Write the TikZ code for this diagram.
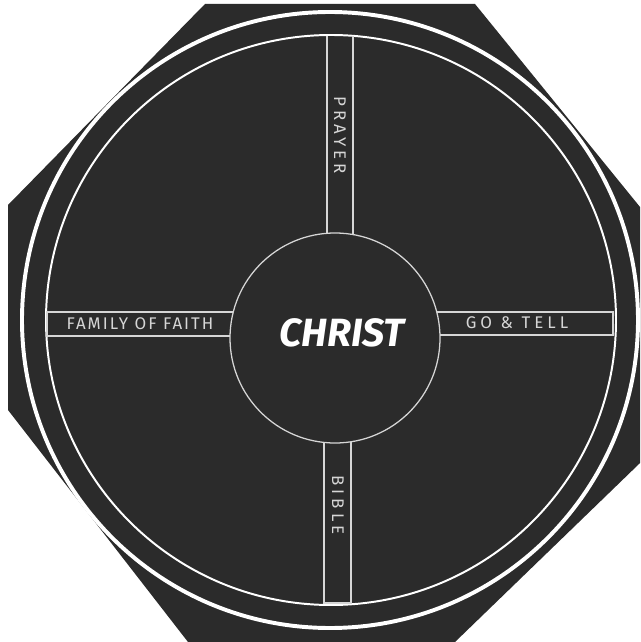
\documentclass[tikz,border=0pt]{standalone}
\usepackage{fontspec}
\setsansfont{Fira Sans}
\newfontfamily\barfont[LetterSpace=12]{Fira Sans}
\newfontfamily\widebarfont[LetterSpace=24]{Fira Sans}
\definecolor{board}{HTML}{2B2B2B}
\definecolor{chalk}{HTML}{D6D6D6}
\tikzset{
	barline/.style = {draw = chalk, line width = 0.9pt},
	barlabel/.style = {text = chalk, inner sep = 0pt, font = \barfont\fontsize{12}{12}\selectfont},
	widelabel/.style = {barlabel, font = \widebarfont\fontsize{12}{12}\selectfont}
}
\begin{document}
\begin{tikzpicture} [x = 0.025cm, y = -0.025cm]
	\useasboundingbox (0,0) rectangle (640,642);
	\fill [board] (205,4) -- (475,4) -- (640,207) -- (640,463) -- (455,642) -- (188,642) -- (8,410) -- (8,205) -- cycle;
	\draw [white, line width = 2.8pt] (330,320) circle (308);
	\draw [white, line width = 1.4pt] (331,320) circle (285);
	\draw [barline] (327,36) -- (327,300);
	\draw [barline] (353,36) -- (353,300);
	\draw [barline] (324,603) rectangle (351,400);
	\draw [barline] (47,312) rectangle (300,336);
	\draw [barline] (613,312) rectangle (380,335);
	\draw [barline, fill = board] (335,338) circle (105);
	\node (christ) [text = white, font = \sffamily\bfseries\itshape\fontsize{28}{28}\selectfont] at (342,333) {CHRIST};
	\node (prayer) [widelabel, rotate = -90] at (340,135) {PRAYER};
	\node (bible) [widelabel, rotate = -90] at (338,505) {BIBLE};
	\node (family) [barlabel] at (140,324) {FAMILY OF FAITH};
	\node (tell) [widelabel] at (517,323) {GO \& TELL};
\end{tikzpicture}
\end{document}
